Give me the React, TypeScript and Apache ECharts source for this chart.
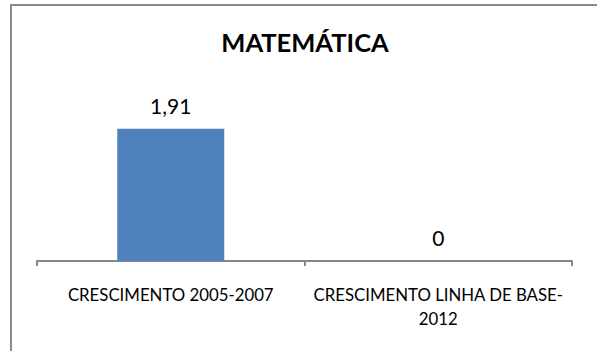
import React, { useEffect, useRef } from "react";
import * as echarts from "echarts";

const TITLE = "MATEMÁTICA";
const categories: string[] = ["CRESCIMENTO 2005-2007", "CRESCIMENTO LINHA DE BASE-\n2012"];
const values: number[] = [1.91, 0];

export default function App() {
  const ref = useRef<HTMLDivElement>(null);
  useEffect(() => {
    if (!ref.current) return;
    const chart = echarts.init(ref.current, undefined, { renderer: "svg" });
    chart.setOption({
      animation: false,
      backgroundColor: "transparent",
      title: {
        text: TITLE,
        left: 300,
        textAlign: "center",
        top: 24,
        textStyle: { fontFamily: "Lato", fontWeight: "bold", fontSize: 25.5, color: "#000" },
      },
      grid: { left: 37, right: 25, top: 88, bottom: 90, containLabel: false },
      xAxis: {
        type: "category",
        data: categories,
        axisLine: { show: true, lineStyle: { color: "#868686", width: 2 } },
        axisTick: { show: true, length: 5, lineStyle: { color: "#868686", width: 2 } },
        axisLabel: {
          interval: 0,
          margin: 21,
          fontFamily: "Lato",
          fontSize: 16.8,
          lineHeight: 24,
          color: "#000",
        },
      },
      yAxis: {
        type: "value",
        min: 0,
        max: 2.5,
        show: false,
        splitLine: { show: false },
      },
      series: [
        {
          type: "bar",
          data: values,
          barCategoryGap: "60%",
          itemStyle: { color: "#4F81BD" },
          label: {
            show: true,
            position: "top",
            distance: 13,
            fontFamily: "Lato",
            fontSize: 21,
            color: "#000",
            formatter: (p: any) => String(p.value).replace(".", ","),
          },
        },
      ],
    });
    return () => chart.dispose();
  }, []);
  return (
    <div style={{ position: "fixed", left: 0, top: 0, width: 597, height: 351, overflow: "hidden", background: "#fff" }}>
      <div
        style={{
          position: "absolute",
          left: 10,
          top: 4,
          width: 700,
          height: 500,
          borderLeft: "2px solid #8a8a8a",
          borderTop: "2px solid #8a8a8a",
        }}
      />
      <div ref={ref} style={{ position: "absolute", left: 0, top: 0, width: 597, height: 351 }} />
    </div>
  );
}
